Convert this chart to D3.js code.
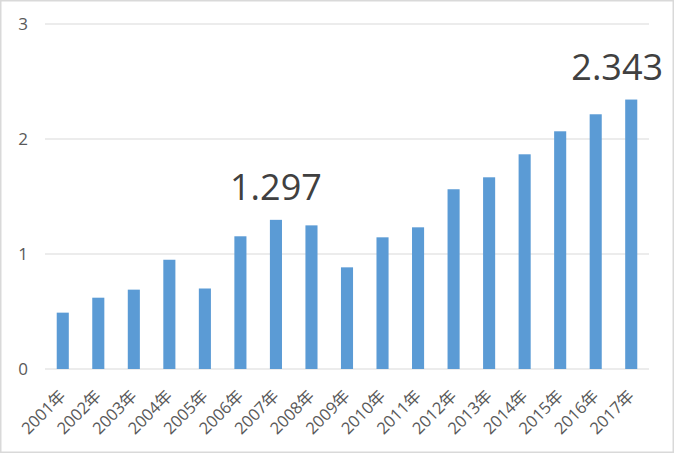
<!DOCTYPE html>
<html><head><meta charset="utf-8">
<script src="https://cdn.jsdelivr.net/npm/d3@7"></script>
<style>
html,body{margin:0;padding:0;background:#fff;}
svg{display:block;}
text{font-family:"Open Sans","Noto Sans CJK SC",sans-serif;}
</style></head>
<body>
<script>
const categories = ["2001年","2002年","2003年","2004年","2005年","2006年","2007年","2008年","2009年","2010年","2011年","2012年","2013年","2014年","2015年","2016年","2017年"];
const values = [0.49,0.62,0.69,0.95,0.70,1.154,1.297,1.249,0.884,1.145,1.232,1.563,1.667,1.867,2.067,2.215,2.343];
const yTicks = [0,1,2,3];
const labelled = ["2007年","2017年"];

const W=674,H=453;
const svg=d3.select("body").append("svg").attr("width",W).attr("height",H);
svg.append("rect").attr("x",0.75).attr("y",0.75).attr("width",W-1.5).attr("height",H-1.5)
  .attr("fill","#fff").attr("stroke","#d9d9d9").attr("stroke-width",1.5);

const x=d3.scaleBand().domain(categories).range([45,649]).paddingInner(0.66).paddingOuter(0.33);
const y=d3.scaleLinear().domain([0,3]).range([369,24]);

const grid=svg.append("g");
grid.selectAll("line").data(yTicks).join("line")
  .attr("x1",45).attr("x2",649).attr("y1",d=>y(d)).attr("y2",d=>y(d))
  .attr("stroke","#d9d9d9").attr("stroke-width",1);

const yAxis=d3.axisLeft(y).tickValues(yTicks).tickSize(0).tickPadding(0).tickFormat(d3.format("d"));
const ya=svg.append("g").attr("transform","translate(28,0)").call(yAxis);
ya.select(".domain").remove();
ya.selectAll("text").attr("font-size",17).attr("fill","#595959").attr("font-family",'"Open Sans","Noto Sans CJK SC",sans-serif');

svg.append("g").selectAll("rect").data(values).join("rect")
  .attr("x",(d,i)=>x(categories[i])).attr("width",x.bandwidth())
  .attr("y",d=>y(d)).attr("height",d=>y(0)-y(d)).attr("fill","#5b9bd5");

const xAxis=d3.axisBottom(x).tickSize(0).tickPadding(0);
const xa=svg.append("g").attr("transform","translate(0,369)").call(xAxis);
xa.select(".domain").remove();
xa.selectAll("text")
  .attr("font-size",16.5).attr("fill","#595959").attr("font-family",'"Open Sans","Noto Sans CJK SC",sans-serif')
  .attr("text-anchor","end").attr("dy",null).attr("y",null)
  .attr("transform","translate(4,28) rotate(-45)");

svg.append("g").selectAll("text").data(labelled).join("text")
  .attr("x",d=>{const c=x(d)+x.bandwidth()/2; return d==="2017年"? c-14 : c;})
  .attr("y",d=>y(values[categories.indexOf(d)])-20)
  .attr("text-anchor","middle").attr("font-size",36).attr("fill","#404040")
  .text(d=>d3.format(".3f")(values[categories.indexOf(d)]));
</script>
</body></html>
